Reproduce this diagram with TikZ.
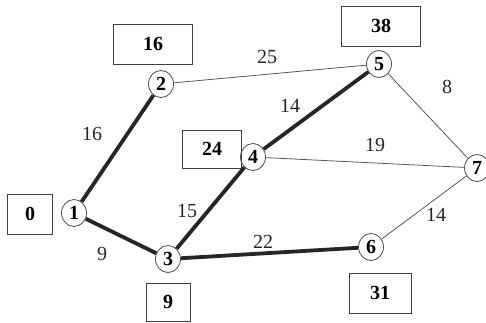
\documentclass[tikz,border=0pt]{standalone}
\usepackage{fontspec}
\setmainfont{Liberation Serif}
\usetikzlibrary{shapes.geometric,backgrounds}
\begin{document}
\begin{tikzpicture}[x=1pt,y=-1pt,
  vertex/.style={draw=black!70,line width=0.8pt,fill=white,ellipse,inner sep=0pt,
    minimum width=25pt,minimum height=27pt,font=\fontsize{20}{20}\selectfont\bfseries},
  distbox/.style={draw=black!75,line width=0.8pt,inner sep=0pt,minimum height=40pt,
    font=\fontsize{20}{20}\selectfont\bfseries},
  wlabel/.style={font=\fontsize{20}{20}\selectfont,text=black!85},
  thin edge/.style={draw=black!65,line width=0.8pt},
  tree edge/.style={draw=black!85,line width=3.8pt}]
\useasboundingbox (0,0) rectangle (486,322);
% vertices
\node[vertex] (n1) at (74,213) {1};
\node[vertex] (n2) at (161,84) {2};
\node[vertex] (n3) at (168,259) {3};
\node[vertex] (n4) at (253,157) {4};
\node[vertex] (n5) at (379,64) {5};
\node[vertex] (n6) at (371,247) {6};
\node[vertex] (n7) at (477,168) {7};
% edges, behind the vertices; the shortest-path tree is drawn heavy
\begin{pgfonlayer}{background}
\draw[thin edge] (n2) -- (n5);
\draw[thin edge] (n4) -- (n7);
\draw[thin edge] (n5) -- (n7);
\draw[thin edge] (n6) -- (n7);
\draw[tree edge] (n1) -- (n2);
\draw[tree edge] (n1) -- (n3);
\draw[tree edge] (n3) -- (n4);
\draw[tree edge] (n4) -- (n5);
\draw[tree edge] (n3) -- (n6);
\end{pgfonlayer}
% edge weights
\node[wlabel] (w12) at (92,134) {16};
\node[wlabel] (w25) at (267,57) {25};
\node[wlabel] (w57) at (447,87) {8};
\node[wlabel] (w45) at (290,106) {14};
\node[wlabel] (w47) at (375,145) {19};
\node[wlabel] (w34) at (187,211) {15};
\node[wlabel] (w13) at (102,254) {9};
\node[wlabel] (w36) at (263,242) {22};
\node[wlabel] (w67) at (436,215) {14};
% distance labels
\node[distbox,minimum width=45pt] (d1) at (30,214) {0};
\node[distbox,minimum width=79pt] (d2) at (153,44) {16};
\node[distbox,minimum width=44pt,minimum height=38pt] (d3) at (168,302) {9};
\node[distbox,minimum width=59pt,minimum height=38pt] (d4) at (212,149) {24};
\node[distbox,minimum width=79pt] (d5) at (381,26) {38};
\node[distbox,minimum width=62pt] (d6) at (380,293) {31};
\end{tikzpicture}
\end{document}
